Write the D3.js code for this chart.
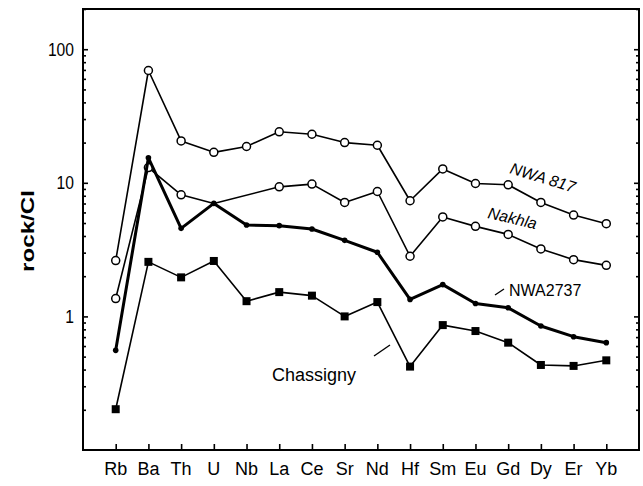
<!DOCTYPE html>
<html>
<head>
<meta charset="utf-8">
<script src="https://cdn.jsdelivr.net/npm/d3@7"></script>
<style>
  body { margin: 0; background: #fff; }
  text { font-family: "Liberation Sans", Arial, sans-serif; fill: #000; }
</style>
</head>
<body>
<svg id="chart" width="643" height="486"></svg>
<script>
// elements along the x axis
const elements = ['Rb', 'Ba', 'Th', 'U', 'Nb', 'La', 'Ce', 'Sr', 'Nd', 'Hf', 'Sm', 'Eu', 'Gd', 'Dy', 'Er', 'Yb'];

// rock / CI chondrite values
const nwa817 = [2.62, 69.3, 20.6, 16.9, 18.7, 24.1, 23.1, 20.0, 19.1, 7.34, 12.7, 9.88, 9.66, 7.13, 5.74, 4.94];
const nakhla = [1.36, 13.0, 8.13, 7.0, null, 9.33, 9.78, 7.13, 8.61, 2.82, 5.55, 4.72, 4.11, 3.2, 2.66, 2.41];
const nakhlaHidden = ['U'];
const nwa2737 = [0.557, 15.4, 4.56, 7.01, 4.83, 4.78, 4.51, 3.71, 3.02, 1.34, 1.73, 1.25, 1.16, 0.847, 0.705, 0.636];
const chassigny = [0.202, 2.56, 1.96, 2.60, 1.30, 1.52, 1.43, 1.0, 1.28, 0.421, 0.861, 0.777, 0.636, 0.433, 0.426, 0.469];

const yTicks = [1, 10, 100];

const margin = { top: 9, right: 4, bottom: 36, left: 83 };
const width = 643, height = 486;
const svg = d3.select('#chart');

const x = d3.scalePoint().domain(elements).range([margin.left, width - margin.right]).padding(1);
const y = d3.scaleLog().domain([0.1, 200]).range([height - margin.bottom, margin.top]);

const x0 = margin.left, x1 = width - margin.right;
const y0 = height - margin.bottom, y1 = margin.top;

// minor ticks 2..9 in each decade
const minor = [];
[0.1, 1, 10, 100].forEach(d => {
    for (let k = 2; k <= 9; k++) if (d * k <= 200) minor.push(d * k);
});

// left axis (ticks inward)
const gLeft = svg.append('g').attr('transform', 'translate(' + x0 + ',0)');
gLeft.call(d3.axisRight(y).tickValues(yTicks).tickSize(5).tickFormat(''));
gLeft.append('g').call(d3.axisRight(y).tickValues(minor).tickSize(3).tickFormat(''));
gLeft.selectAll('.domain').remove();
gLeft.selectAll('line').attr('stroke', '#000').attr('stroke-width', 1.6);
gLeft.selectAll('.tickLabel').data(yTicks).enter().append('text')
    .attr('x', -9).attr('y', d => y(d)).attr('dy', '0.36em')
    .attr('text-anchor', 'end').attr('font-size', 18)
    .attr('textLength', d => String(d).length * 8.7).attr('lengthAdjust', 'spacingAndGlyphs')
    .text(d => d);

// right axis (ticks inward)
const gRight = svg.append('g').attr('transform', 'translate(' + x1 + ',0)');
gRight.call(d3.axisLeft(y).tickValues(yTicks).tickSize(5).tickFormat(''));
gRight.append('g').call(d3.axisLeft(y).tickValues(minor).tickSize(3).tickFormat(''));
gRight.selectAll('.domain').remove();
gRight.selectAll('line').attr('stroke', '#000').attr('stroke-width', 1.6);

// bottom axis
const gBottom = svg.append('g').attr('transform', 'translate(0,' + y0 + ')');
gBottom.call(d3.axisTop(x).tickSize(6).tickFormat(''));
gBottom.selectAll('.domain').remove();
gBottom.selectAll('line').attr('stroke', '#000').attr('stroke-width', 1.6);
gBottom.selectAll('.elLabel').data(elements).enter().append('text')
    .attr('x', d => x(d)).attr('y', 25)
    .attr('text-anchor', 'middle').attr('font-size', 18)
    .text(d => d);

// frame
svg.append('rect')
    .attr('x', x0).attr('y', y1).attr('width', x1 - x0).attr('height', y0 - y1)
    .attr('fill', 'none').attr('stroke', '#000').attr('stroke-width', 2);

// y label
svg.append('text')
    .attr('transform', 'translate(34,231) rotate(-90)')
    .attr('text-anchor', 'middle').attr('font-size', 18).attr('font-weight', 'bold')
    .attr('textLength', 82).attr('lengthAdjust', 'spacingAndGlyphs')
    .text('rock/CI');

const line = d3.line()
    .defined(d => d.v != null)
    .x(d => x(d.el)).y(d => y(d.v));

function pts(values) {
    return elements.map((el, i) => ({ el: el, v: values[i] }));
}

function drawSeries(values, width) {
    const data = pts(values).filter(d => d.v != null);
    svg.append('path').datum(data).attr('d', line)
        .attr('fill', 'none').attr('stroke', '#000').attr('stroke-width', width)
        .attr('stroke-linejoin', 'round');
    return data;
}

// Chassigny
const chData = drawSeries(chassigny, 1.6);
svg.selectAll('.sq').data(chData).enter().append('rect')
    .attr('x', d => x(d.el) - 4).attr('y', d => y(d.v) - 4)
    .attr('width', 8).attr('height', 8).attr('fill', '#000');

// NWA 817
const nwData = drawSeries(nwa817, 1.6);
svg.selectAll('.c1').data(nwData).enter().append('circle')
    .attr('cx', d => x(d.el)).attr('cy', d => y(d.v)).attr('r', 4)
    .attr('fill', '#fff').attr('stroke', '#000').attr('stroke-width', 1.5);

// Nakhla
const nkData = drawSeries(nakhla, 1.6);
svg.selectAll('.c2').data(nkData.filter(d => !nakhlaHidden.includes(d.el))).enter().append('circle')
    .attr('cx', d => x(d.el)).attr('cy', d => y(d.v)).attr('r', 4)
    .attr('fill', '#fff').attr('stroke', '#000').attr('stroke-width', 1.5);

// NWA2737
const n27Data = drawSeries(nwa2737, 3);
svg.selectAll('.dt').data(n27Data).enter().append('circle')
    .attr('cx', d => x(d.el)).attr('cy', d => y(d.v)).attr('r', 2.8)
    .attr('fill', '#000');

// labels
svg.append('text')
    .attr('transform', 'translate(509,173) rotate(17)')
    .attr('font-size', 16).attr('font-style', 'italic')
    .text('NWA 817');
svg.append('text')
    .attr('transform', 'translate(487,218) rotate(13)')
    .attr('font-size', 16).attr('font-style', 'italic')
    .text('Nakhla');
svg.append('text')
    .attr('x', 509).attr('y', 296)
    .attr('font-size', 16)
    .text('NWA2737');
svg.append('line')
    .attr('x1', 495).attr('y1', 295).attr('x2', 504).attr('y2', 289)
    .attr('stroke', '#000').attr('stroke-width', 1.4);
svg.append('text')
    .attr('x', 272).attr('y', 381)
    .attr('font-size', 18)
    .text('Chassigny');
svg.append('line')
    .attr('x1', 374).attr('y1', 356).attr('x2', 390).attr('y2', 345)
    .attr('stroke', '#000').attr('stroke-width', 1.4);
</script>
</body>
</html>
